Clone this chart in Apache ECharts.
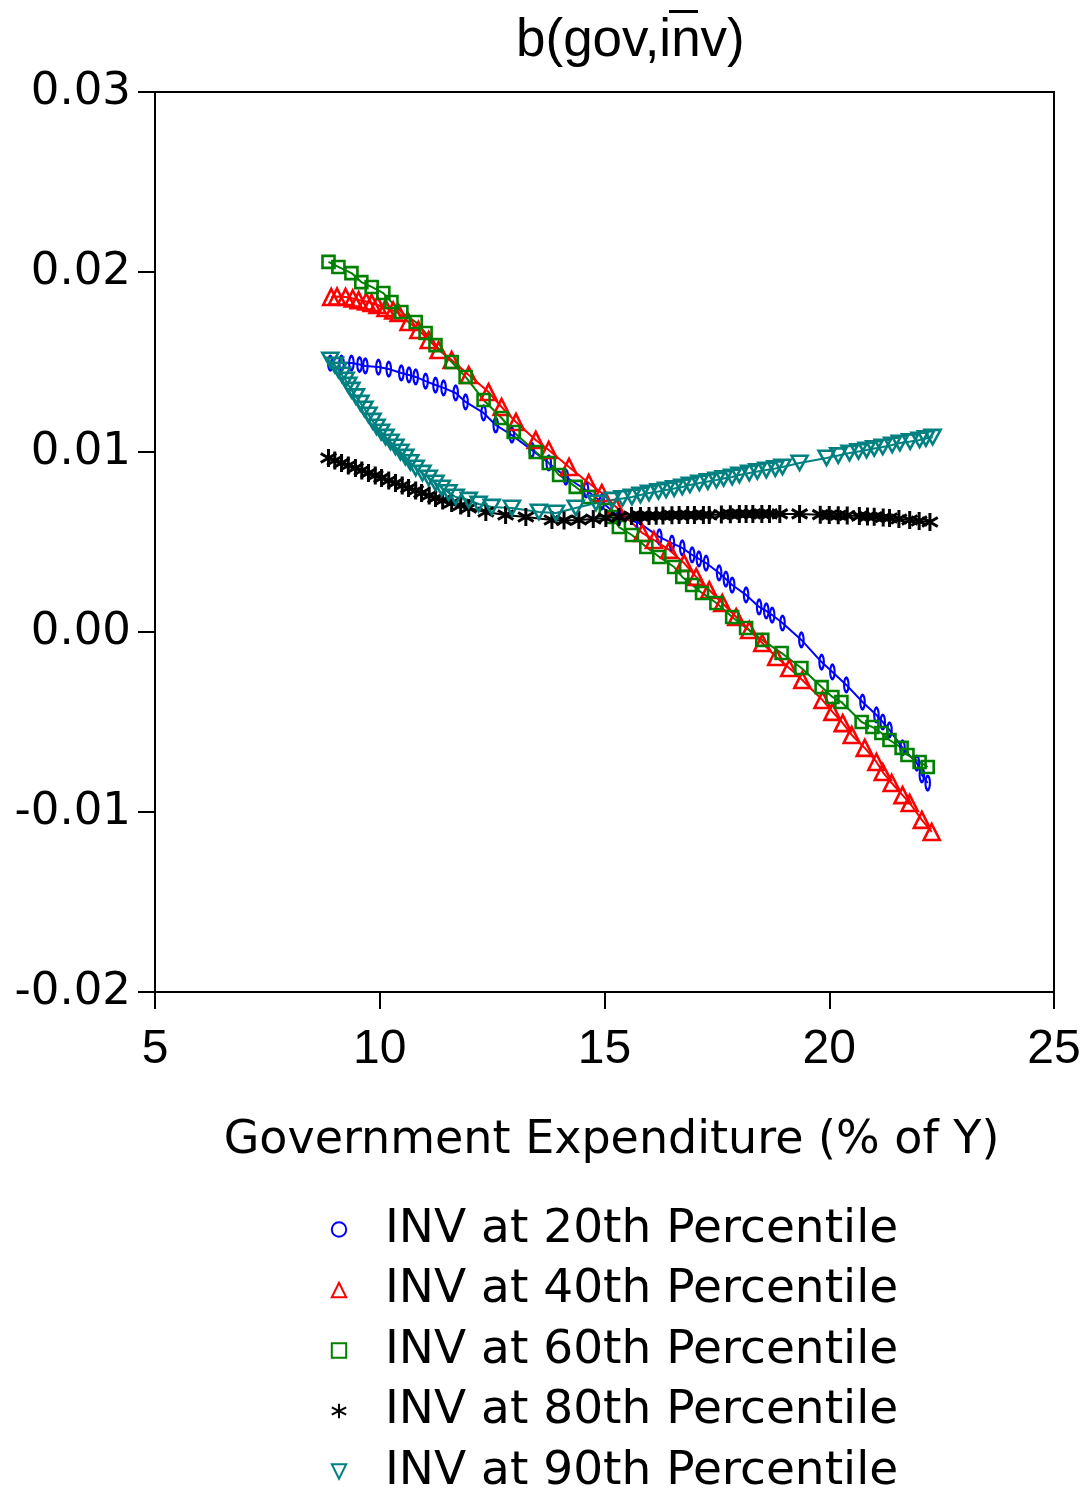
<!DOCTYPE html>
<html>
<head>
<meta charset="utf-8">
<script src="https://cdn.jsdelivr.net/npm/echarts@6/dist/echarts.min.js"></script>
<style>
  html, body { margin: 0; padding: 0; background: #fff; }
  #chart { width: 1088px; height: 1494px; }
</style>
</head>
<body>
<div id="chart"></div>
<script>
// values: x = government expenditure (% of Y), y = b(gov, inv)
var p20x = [8.90, 9.15, 9.37, 9.55, 9.68, 9.97, 10.20, 10.48, 10.65, 10.80, 11.02, 11.24, 11.42, 11.69, 11.91, 12.31, 12.58, 12.94, 13.38, 13.76, 14.14, 14.59, 14.94, 15.32, 15.77, 16.22, 16.50, 16.73, 16.95, 17.10, 17.26, 17.55, 17.70, 17.84, 18.15, 18.44, 18.60, 18.73, 18.96, 19.38, 19.83, 20.07, 20.38, 20.74, 21.05, 21.19, 21.34, 21.63, 21.95, 22.06, 22.19];
var p20y = [0.01494, 0.01494, 0.01494, 0.01486, 0.01478, 0.01472, 0.01461, 0.01439, 0.01428, 0.01417, 0.01394, 0.01372, 0.01356, 0.01328, 0.01278, 0.01217, 0.0115, 0.01094, 0.01011, 0.00939, 0.00861, 0.00789, 0.00722, 0.0064, 0.00606, 0.00528, 0.00494, 0.00467, 0.00428, 0.00406, 0.00383, 0.00328, 0.00294, 0.00261, 0.00206, 0.00139, 0.00117, 0.00094, 0.0005, -0.00044, -0.00167, -0.00222, -0.00294, -0.00389, -0.00461, -0.005, -0.00544, -0.00644, -0.00728, -0.00794, -0.00839];

var p40x = [8.92, 9.05, 9.24, 9.40, 9.53, 9.70, 9.82, 9.95, 10.13, 10.30, 10.42, 10.64, 10.86, 11.09, 11.31, 11.60, 11.98, 12.42, 12.71, 13.03, 13.47, 13.76, 14.21, 14.65, 14.94, 15.26, 15.84, 16.10, 16.44, 16.77, 17.04, 17.33, 17.62, 17.93, 18.22, 18.51, 18.82, 19.11, 19.40, 19.85, 20.07, 20.30, 20.50, 20.79, 21.05, 21.19, 21.39, 21.63, 21.79, 22.06, 22.28];
var p40y = [0.01861, 0.01864, 0.01861, 0.01853, 0.01844, 0.01836, 0.01828, 0.01817, 0.018, 0.01786, 0.01772, 0.01722, 0.01678, 0.01622, 0.01567, 0.01511, 0.01428, 0.01333, 0.0125, 0.01167, 0.01067, 0.01011, 0.00917, 0.00828, 0.00772, 0.00694, 0.0055, 0.00511, 0.00456, 0.00383, 0.00306, 0.00233, 0.00161, 0.00083, 0.00011, -0.00061, -0.00139, -0.002, -0.00267, -0.00378, -0.00444, -0.00506, -0.00572, -0.00644, -0.00722, -0.00778, -0.00839, -0.00906, -0.0095, -0.01044, -0.01111];

var p60x = [8.86, 9.08, 9.37, 9.59, 9.82, 10.08, 10.26, 10.48, 10.80, 11.02, 11.24, 11.60, 11.91, 12.31, 12.71, 12.98, 13.47, 13.76, 13.99, 14.36, 14.65, 15.03, 15.17, 15.32, 15.61, 15.93, 16.22, 16.55, 16.73, 16.95, 17.17, 17.49, 17.84, 18.15, 18.51, 18.94, 19.38, 19.83, 20.07, 20.27, 20.72, 20.96, 21.16, 21.34, 21.61, 21.74, 22.01, 22.19];
var p60y = [0.02056, 0.02028, 0.01994, 0.01944, 0.01917, 0.01883, 0.01833, 0.01778, 0.01722, 0.01661, 0.01594, 0.015, 0.01417, 0.01289, 0.01189, 0.01111, 0.01, 0.00939, 0.00872, 0.00806, 0.0075, 0.00678, 0.00639, 0.00583, 0.00539, 0.00472, 0.00417, 0.00361, 0.00306, 0.00261, 0.00217, 0.00161, 0.00083, 0.00022, -0.00044, -0.00117, -0.002, -0.00306, -0.00361, -0.00389, -0.005, -0.00528, -0.00561, -0.006, -0.00644, -0.00683, -0.00722, -0.0075];

var p80x = [8.86, 9.00, 9.15, 9.30, 9.46, 9.60, 9.75, 9.90, 10.04, 10.20, 10.35, 10.50, 10.64, 10.80, 10.93, 11.10, 11.24, 11.40, 11.60, 11.80, 11.98, 12.36, 12.80, 13.25, 13.83, 14.10, 14.43, 14.75, 15.03, 15.32, 15.60, 15.80, 15.99, 16.15, 16.30, 16.50, 16.66, 16.85, 17.00, 17.20, 17.33, 17.60, 17.80, 18.00, 18.15, 18.30, 18.50, 18.67, 18.90, 19.34, 19.80, 20.00, 20.20, 20.40, 20.67, 20.85, 21.00, 21.20, 21.34, 21.55, 21.79, 22.00, 22.24];
var p80y = [0.00967, 0.00953, 0.00939, 0.00925, 0.00911, 0.00897, 0.00883, 0.0087, 0.00856, 0.00842, 0.00828, 0.00814, 0.008, 0.00786, 0.00772, 0.00758, 0.00744, 0.00731, 0.00717, 0.00703, 0.00689, 0.00667, 0.0065, 0.00639, 0.00622, 0.0062, 0.00622, 0.00628, 0.00633, 0.00639, 0.00644, 0.00644, 0.00644, 0.00646, 0.00647, 0.00649, 0.0065, 0.0065, 0.0065, 0.0065, 0.0065, 0.00653, 0.00654, 0.00656, 0.00656, 0.00656, 0.00656, 0.00656, 0.00656, 0.00656, 0.00652, 0.0065, 0.00649, 0.00647, 0.00644, 0.00642, 0.0064, 0.00636, 0.00633, 0.00628, 0.00622, 0.00617, 0.00611];

var p90x = [8.90, 9.00, 9.08, 9.16, 9.24, 9.30, 9.37, 9.47, 9.57, 9.66, 9.75, 9.84, 9.93, 10.03, 10.13, 10.24, 10.35, 10.46, 10.57, 10.68, 10.80, 10.95, 11.09, 11.24, 11.38, 11.53, 11.69, 11.98, 12.20, 12.49, 12.94, 13.54, 13.92, 14.36, 14.81, 15.17, 15.40, 15.61, 15.80, 15.99, 16.20, 16.37, 16.55, 16.73, 16.90, 17.11, 17.30, 17.49, 17.65, 17.84, 18.00, 18.22, 18.40, 18.60, 18.80, 18.96, 19.34, 19.94, 20.20, 20.45, 20.65, 20.83, 21.00, 21.19, 21.40, 21.57, 21.80, 22.01, 22.15, 22.30];
var p90y = [0.01511, 0.01483, 0.01456, 0.01428, 0.014, 0.01372, 0.01344, 0.01308, 0.01272, 0.01239, 0.01206, 0.01172, 0.01139, 0.01111, 0.01083, 0.01056, 0.01028, 0.01, 0.00972, 0.00942, 0.00911, 0.00883, 0.00856, 0.00828, 0.008, 0.00775, 0.0075, 0.00733, 0.00711, 0.00694, 0.00689, 0.00667, 0.00661, 0.00689, 0.00717, 0.00733, 0.00742, 0.0075, 0.00761, 0.00772, 0.00781, 0.00789, 0.00797, 0.00806, 0.00817, 0.00828, 0.00836, 0.00844, 0.00853, 0.00861, 0.00872, 0.00883, 0.00892, 0.009, 0.00908, 0.00917, 0.00939, 0.00967, 0.0098, 0.00994, 0.01003, 0.01011, 0.0102, 0.01028, 0.01039, 0.0105, 0.01058, 0.01067, 0.01075, 0.01083];

var names = ['INV at 20th Percentile', 'INV at 40th Percentile', 'INV at 60th Percentile', 'INV at 80th Percentile', 'INV at 90th Percentile'];
var colors = ['#0000ff', '#ff0000', '#008000', '#000000', '#008080'];

var FONT = '"Liberation Sans", Arial, sans-serif';
var WIDE = '"DejaVu Sans", sans-serif';

// marker shapes
var symbols = [
    'path://M5,0 C7.8,0 10,4.5 10,10 C10,15.5 7.8,20 5,20 C2.2,20 0,15.5 0,10 C0,4.5 2.2,0 5,0 Z',
    'triangle',
    'rect',
    'path://M5,0 L5,10 M0.67,2.5 L9.33,7.5 M0.67,7.5 L9.33,2.5',
    'path://M0,0 L10,0 L5,9 Z'
];
var symbolSizes = [[9, 14], 16, 12, 18, 16];

function zip(xs, ys) {
    var out = [];
    for (var i = 0; i < xs.length; i++) out.push([xs[i], ys[i]]);
    return out;
}

var allData = [zip(p20x, p20y), zip(p40x, p40y), zip(p60x, p60y), zip(p80x, p80y), zip(p90x, p90y)];

var series = names.map(function(n, i) {
    return {
        name: n,
        type: 'line',
        data: allData[i],
        symbol: symbols[i],
        symbolSize: symbolSizes[i],
        symbolKeepAspect: true,
        showAllSymbol: true,
        lineStyle: { color: colors[i], width: 2 },
        itemStyle: { color: 'rgba(0,0,0,0)', borderColor: colors[i], borderWidth: i === 3 ? 3 : 2.6 },
        emphasis: { disabled: true }
    };
});

var chart = echarts.init(document.getElementById('chart'), null, { renderer: 'canvas' });

chart.setOption({
    animation: false,
    backgroundColor: '#ffffff',
    title: {
        text: 'b(gov,inv)',
        left: 516,
        top: 15,
        padding: 0,
        textStyle: { fontFamily: FONT, fontSize: 53, fontWeight: 'normal', color: '#000' }
    },
    grid: {
        left: 155,
        right: 34,
        top: 92,
        bottom: 502,
        show: true,
        borderColor: '#000',
        borderWidth: 2,
        backgroundColor: 'transparent'
    },
    xAxis: {
        type: 'value',
        min: 5,
        max: 25,
        interval: 5,
        name: 'Government Expenditure (% of Y)',
        nameLocation: 'middle',
        nameGap: 126,
        nameTextStyle: { fontFamily: WIDE, fontSize: 46, color: '#000', padding: [0, 0, 0, 14] },
        axisLine: { show: true, onZero: false, lineStyle: { color: '#000', width: 2 } },
        axisTick: { show: true, inside: false, length: 17, lineStyle: { color: '#000', width: 2 } },
        axisLabel: { margin: 34, fontFamily: FONT, fontSize: 48, color: '#000' },
        splitLine: { show: false }
    },
    yAxis: {
        type: 'value',
        min: -0.02,
        max: 0.03,
        interval: 0.01,
        axisLine: { show: true, onZero: false, lineStyle: { color: '#000', width: 2 } },
        axisTick: { show: true, inside: false, length: 17, lineStyle: { color: '#000', width: 2 } },
        axisLabel: {
            margin: 24,
            fontFamily: WIDE,
            fontSize: 45,
            color: '#000',
            padding: [0, 0, 20, 0],
            formatter: function(v) { return (Math.abs(v) < 1e-9 ? 0 : v).toFixed(2); }
        },
        splitLine: { show: false }
    },
    legend: {
        orient: 'vertical',
        left: 297,
        top: 1206,
        height: 340,
        padding: 0,
        itemWidth: 82,
        itemHeight: 18,
        itemGap: 13.5,
        data: names,
        lineStyle: { opacity: 0 },
        textStyle: { fontFamily: WIDE, fontSize: 47, color: '#000' },
        selectedMode: false
    },
    graphic: [{
        // overline on the "n" of the title
        type: 'line',
        shape: { x1: 669, y1: 11.5, x2: 698, y2: 11.5 },
        style: { stroke: '#000', lineWidth: 3 }
    }],
    series: series
});
</script>
</body>
</html>
